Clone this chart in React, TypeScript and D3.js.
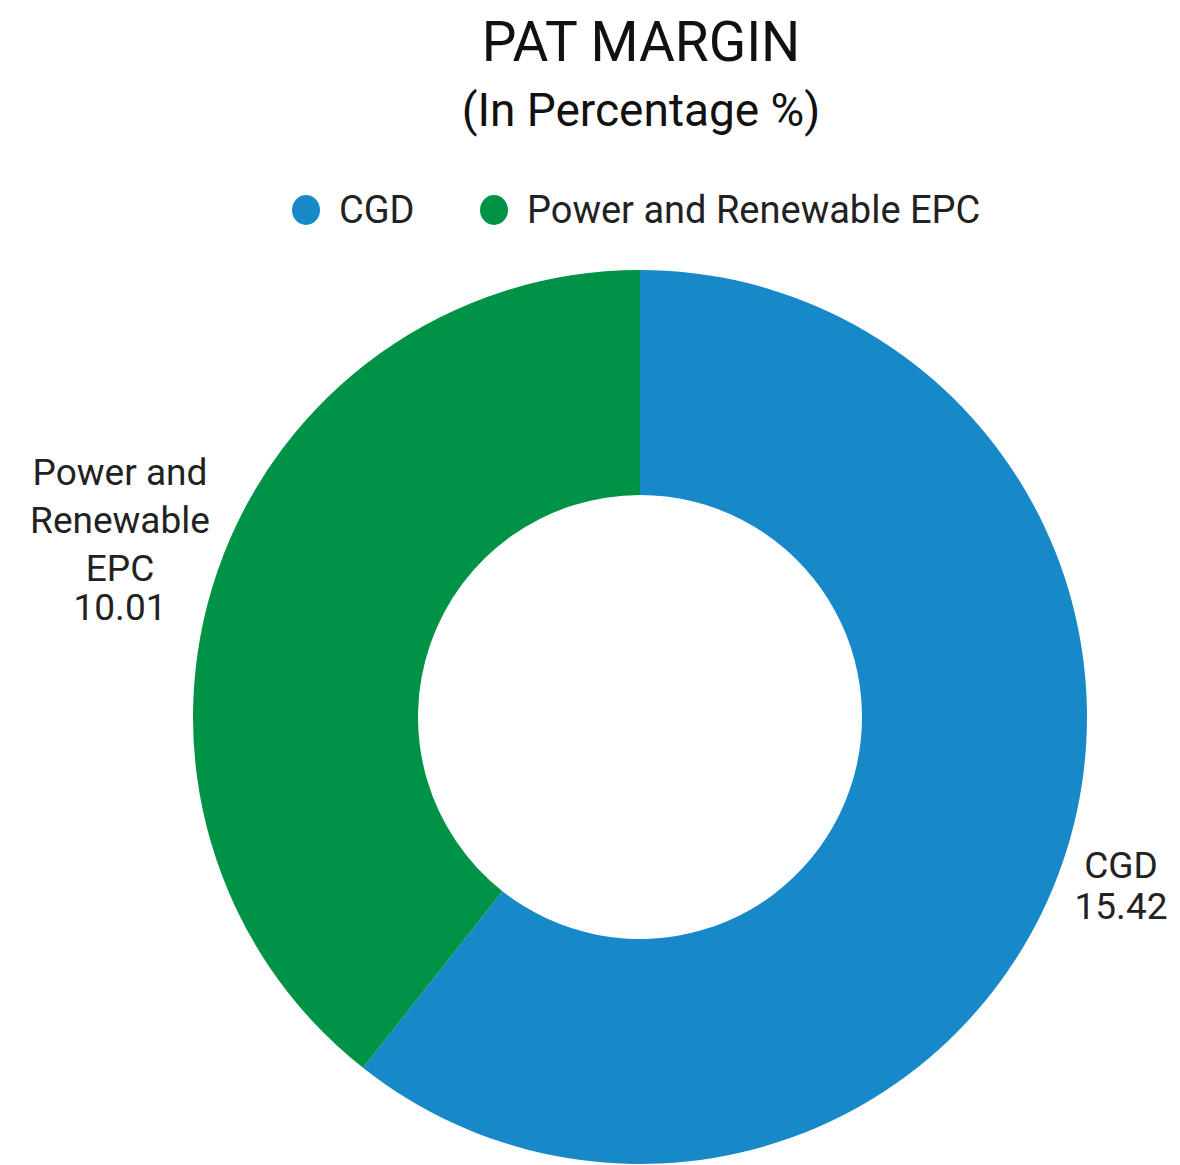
import React from "react";
import * as d3 from "d3";

const categories = ["CGD", "Power and Renewable EPC"];
const values = [15.42, 10.01];
const colors = ["#1789C9", "#009245"];
const labelLines = [["CGD"], ["Power and", "Renewable", "EPC"]];

const W = 1180;
const H = 1165;

export default function App() {
  const cx = 640;
  const cy = 717;
  const outerR = 447;
  const innerR = 222;
  const pie = d3.pie<number>().sort(null).value((d) => d)(values);
  const arc = d3.arc<d3.PieArcDatum<number>>().innerRadius(innerR).outerRadius(outerR);
  const font = "Roboto, 'Noto Sans', sans-serif";
  const labelPos = [
    { x: 1121, y: 878 },
    { x: 120, y: 485 },
  ];
  return (
    <div style={{ position: "absolute", left: 0, top: 0, width: W, height: H, background: "#fff" }}>
      <svg width={W} height={H} style={{ display: "block" }} fontFamily={font}>
        <rect width={W} height={H} fill="#fff" />
        <text x={641} y={61} textAnchor="middle" fontSize={55} fill="#111">PAT MARGIN</text>
        <text x={641} y={126} textAnchor="middle" fontSize={46} fill="#111">(In Percentage %)</text>
        {categories.map((c, i) => {
          const x0 = i === 0 ? 306 : 494;
          return (
            <g key={c}>
              <ellipse cx={x0} cy={210} rx={14} ry={15} fill={colors[i]} />
              <text x={x0 + 33} y={223} fontSize={38} fill="#222">{c}</text>
            </g>
          );
        })}
        <g transform={`translate(${cx},${cy})`}>
          {pie.map((p, i) => (
            <path key={i} d={arc(p) || ""} fill={colors[i]} />
          ))}
        </g>
        {categories.map((c, i) => {
          const lines = [...labelLines[i], d3.format(".2f")(values[i])];
          const pos = labelPos[i];
          return (
            <text key={c} x={pos.x} y={pos.y} textAnchor="middle" fontSize={37} fill="#222">
              {lines.map((l, j) => (
                <tspan key={j} x={pos.x} dy={j === 0 ? 0 : i === 1 && j === 3 ? 39 : j === lines.length - 1 && i === 0 ? 41 : 48}>{l}</tspan>
              ))}
            </text>
          );
        })}
      </svg>
    </div>
  );
}
